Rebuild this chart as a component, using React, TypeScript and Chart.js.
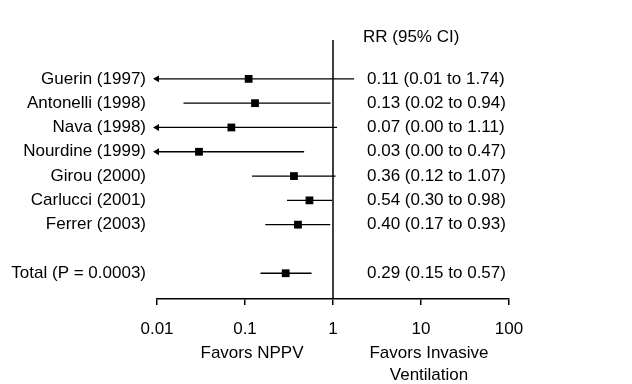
import React, { useEffect, useRef } from "react";
import { Chart, registerables } from "chart.js";

Chart.register(...registerables);

const studies = [
  "Guerin (1997)",
  "Antonelli (1998)",
  "Nava (1998)",
  "Nourdine (1999)",
  "Girou (2000)",
  "Carlucci (2001)",
  "Ferrer (2003)",
  "Total (P = 0.0003)",
];
const rows = [0, 1, 2, 3, 4, 5, 6, 8];
const rr = [0.11, 0.13, 0.07, 0.03, 0.36, 0.54, 0.4, 0.29];
const lower = [0.01, 0.02, 0.0, 0.0, 0.12, 0.3, 0.17, 0.15];
const upper = [1.74, 0.94, 1.11, 0.47, 1.07, 0.98, 0.93, 0.57];
const rrLabels = [
  "0.11 (0.01 to 1.74)",
  "0.13 (0.02 to 0.94)",
  "0.07 (0.00 to 1.11)",
  "0.03 (0.00 to 0.47)",
  "0.36 (0.12 to 1.07)",
  "0.54 (0.30 to 0.98)",
  "0.40 (0.17 to 0.93)",
  "0.29 (0.15 to 0.57)",
];
const xTicks = [0.01, 0.1, 1, 10, 100];
const xTickLabels = ["0.01", "0.1", "1", "10", "100"];
const header = "RR (95% CI)";
const leftTitle = "Favors NPPV";
const rightTitle = ["Favors Invasive", "Ventilation"];

const X_MIN = 0.01;
const X_MAX = 100;
const Y_MIN = -1.6;
const Y_MAX = 9.06;
const FONT = '"Liberation Sans", Arial, Helvetica, sans-serif';

export default function App() {
  const ref = useRef<HTMLCanvasElement | null>(null);

  useEffect(() => {
    if (!ref.current) return;
    const ciSets = rows.map((r, i) => ({
      type: "scatter" as const,
      data: [
        { x: Math.max(lower[i], X_MIN), y: r },
        { x: upper[i], y: r },
      ],
      showLine: true,
      borderColor: "#000",
      borderWidth: 1.3,
      pointRadius: 0,
      clip: false as any,
    }));
    const arrowData = rows
      .map((r, i) => ({ x: X_MIN, y: r, t: lower[i] <= X_MIN }))
      .filter((d) => d.t)
      .map((d) => ({ x: d.x, y: d.y }));

    const textPlugin = {
      id: "forestText",
      afterDraw(chart: any) {
        const ctx = chart.ctx;
        const xs = chart.scales.x;
        const ys = chart.scales.y;
        ctx.save();
        ctx.fillStyle = "#000";
        ctx.font = `17px ${FONT}`;
        ctx.textBaseline = "middle";
        ctx.textAlign = "left";
        const one = xs.getPixelForValue(1);
        ctx.fillText(header, one + 30, 37);
        rows.forEach((r, i) => {
          ctx.fillText(rrLabels[i], one + 34, ys.getPixelForValue(r));
        });
        ctx.textAlign = "center";
        ctx.fillText(leftTitle, xs.getPixelForValue(0.1) + 7, 353);
        ctx.fillText(rightTitle[0], xs.getPixelForValue(10) + 8, 353);
        ctx.fillText(rightTitle[1], xs.getPixelForValue(10) + 8, 375);
        ctx.restore();
      },
    };

    const chart = new Chart(ref.current, {
      type: "scatter",
      data: {
        datasets: [
          {
            type: "scatter",
            data: [
              { x: 1, y: Y_MIN },
              { x: 1, y: Y_MAX },
            ],
            showLine: true,
            borderColor: "#000",
            borderWidth: 1.5,
            pointRadius: 0,
          },
          ...ciSets,
          {
            type: "scatter",
            data: rr.map((v, i) => ({ x: v, y: rows[i] })),
            pointStyle: "rect",
            pointRadius: 5.5,
            backgroundColor: "#000",
            borderWidth: 0,
          },
          {
            type: "scatter",
            data: arrowData,
            pointStyle: "triangle",
            rotation: 270,
            pointRadius: 4,
            backgroundColor: "#000",
            borderWidth: 0,
            clip: false as any,
          },
        ] as any,
      },
      options: {
        animation: false,
        responsive: false,
        devicePixelRatio: 1,
        layout: { padding: { left: 0, top: 40, right: 123, bottom: 0 } },
        plugins: { legend: { display: false }, tooltip: { enabled: false } },
        scales: {
          x: {
            type: "logarithmic",
            min: X_MIN,
            max: X_MAX,
            afterBuildTicks: (s: any) => {
              s.ticks = xTicks.map((v) => ({ value: v }));
            },
            afterFit: (s: any) => {
              s.height = 85;
            },
            ticks: {
              callback: (_v: any, i: number) => xTickLabels[i],
              color: "#000",
              font: { size: 17, family: FONT },
              padding: 14,
              autoSkip: false,
              maxRotation: 0,
            },
            grid: {
              drawOnChartArea: false,
              drawTicks: true,
              tickLength: 6,
              color: "#000",
              lineWidth: 1.5,
            },
            border: { display: true, color: "#000", width: 1.5 },
          },
          y: {
            type: "linear",
            reverse: true,
            min: Y_MIN,
            max: Y_MAX,
            afterBuildTicks: (s: any) => {
              s.ticks = rows.map((v) => ({ value: v }));
            },
            afterFit: (s: any) => {
              s.width = 157;
            },
            ticks: {
              callback: (_v: any, i: number) => studies[i],
              color: "#000",
              font: { size: 17, family: FONT },
              padding: 11,
              autoSkip: false,
            },
            grid: { display: false, drawTicks: false },
            border: { display: false },
          },
        },
      } as any,
      plugins: [textPlugin],
    });
    return () => chart.destroy();
  }, []);

  return (
    <div style={{ position: "absolute", left: 0, top: 0, width: 632, height: 384, background: "#fff" }}>
      <canvas ref={ref} width={632} height={384} />
    </div>
  );
}
